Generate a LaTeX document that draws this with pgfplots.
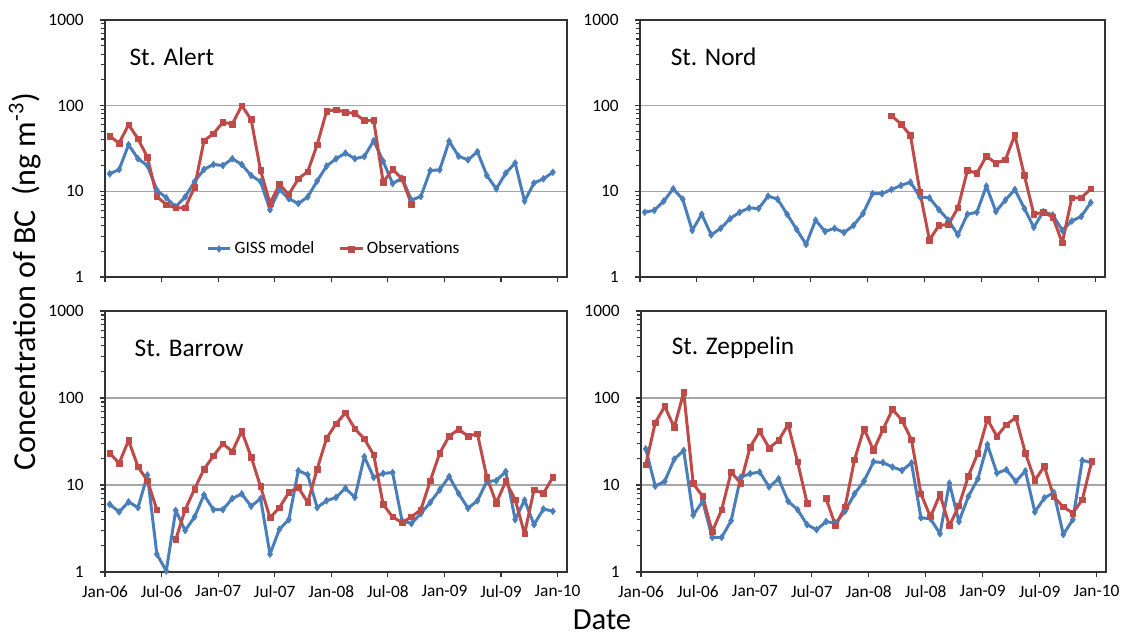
\documentclass[border=0pt]{standalone}
\usepackage{pgfplots}
\pgfplotsset{compat=1.18}
\usepackage{fontspec}
\setmainfont{Carlito}
\definecolor{gissblue}{HTML}{4A7EBB}
\definecolor{obsred}{HTML}{BE4B48}
\newcommand\tickfont{\fontsize{13}{13}\selectfont}
\pgfplotsset{
  every axis/.append style={
    scale only axis,
    xmin=0, xmax=49, ymin=1, ymax=1000,
    xtick={0,6,12,18,24,30,36,42,48},
    ytick={1,10,100,1000}, yticklabels={1,10,100,1000},
    minor ytick={2,3,4,5,6,7,8,9,20,30,40,50,60,70,80,90,200,300,400,500,600,700,800,900},
    ymajorgrids,
    major grid style={draw=black!35, line width=0.8pt},
    axis line style={draw=black!80, line width=0.8pt},
    tick style={draw=black!80, line width=0.8pt},
    major tick length=4pt, minor tick length=3pt,
    tick align=outside, tick pos=left,
    tick label style={font=\tickfont, text=black},
    yticklabel style={xshift=-8.5pt},
    xticklabel style={yshift=-2.5pt},
    unbounded coords=jump, clip=false,
  },
}
\tikzset{
  giss/.style={color=gissblue, line width=2.25pt, line join=round, mark=diamond*, mark size=2.6pt, mark options={line width=0.4pt, solid}},
  obs/.style={color=obsred, line width=2.25pt, line join=round, mark=square*, mark size=2.1pt, mark options={line width=0.4pt, solid}},
  stlabel/.style={anchor=west, font=\fontsize{19}{19}\selectfont},
}
\begin{document}
\begin{tikzpicture}
\path[use as bounding box] (0pt,0pt) rectangle (844.5pt,476.25pt);

% ---------------- St. Alert (top left)
\begin{semilogyaxis}[anchor=south west, at={(78.75pt,268.5pt)}, width=346.5pt, height=192.75pt,
  xticklabels={},
  legend style={draw=none, fill=none, legend columns=2, at={(0.496,0.109)}, anchor=center,
    font=\fontsize{13}{13}\selectfont,
    /tikz/every even column/.append style={column sep=16pt}},
]
\addplot[giss] coordinates {
(0.5,16) (1.5,18) (2.5,35) (3.5,24) (4.5,20) (5.5,10.3) (6.5,8.4) (7.5,6.6) (8.5,8.6) (9.5,13) (10.5,18) (11.5,20.6)
(12.5,20) (13.5,24) (14.5,20.6) (15.5,15.3) (16.5,13) (17.5,6.1) (18.5,10.5) (19.5,8.2) (20.5,7.2) (21.5,8.6) (22.5,13.2) (23.5,19.7)
(24.5,24) (25.5,28) (26.5,24) (27.5,25.5) (28.5,39) (29.5,22.5) (30.5,12.3) (31.5,14.3) (32.5,7.9) (33.5,8.7) (34.5,17.5) (35.5,17.8)
(36.5,38.5) (37.5,25.7) (38.5,23.3) (39.5,29) (40.5,15.3) (41.5,10.7) (42.5,16.3) (43.5,21.4) (44.5,7.7) (45.5,12.5) (46.5,14) (47.5,16.7)};
\addlegendentry{GISS model}
\addplot[obs] coordinates {
(0.5,44) (1.5,36.5) (2.5,60) (3.5,41) (4.5,25) (5.5,8.7) (6.5,7.0) (7.5,6.4) (8.5,6.4) (9.5,11.2) (10.5,39) (11.5,47)
(12.5,64) (13.5,61) (14.5,100) (15.5,69) (16.5,17.5) (17.5,7.2) (18.5,12) (19.5,9.2) (20.5,14) (21.5,17) (22.5,35) (23.5,86)
(24.5,90) (25.5,84) (26.5,81) (27.5,67) (28.5,67) (29.5,12.8) (30.5,18) (31.5,14) (32.5,7.1)};
\addlegendentry{Observations}
\node[stlabel] at (rel axis cs:0.043,0.856) {St. Alert};
\end{semilogyaxis}

% ---------------- St. Nord (top right)
\begin{semilogyaxis}[anchor=south west, at={(480pt,268.5pt)}, width=348.75pt, height=192.75pt,
  xticklabels={},
]
\addplot[giss] coordinates {
(0.5,5.7) (1.5,6.0) (2.5,7.7) (3.5,10.7) (4.5,8.1) (5.5,3.5) (6.5,5.4) (7.5,3.1) (8.5,3.7) (9.5,4.8) (10.5,5.7) (11.5,6.4)
(12.5,6.3) (13.5,8.8) (14.5,8.1) (15.5,5.4) (16.5,3.6) (17.5,2.4) (18.5,4.6) (19.5,3.4) (20.5,3.7) (21.5,3.3) (22.5,4.0) (23.5,5.5)
(24.5,9.4) (25.5,9.4) (26.5,10.5) (27.5,11.7) (28.5,12.8) (29.5,8.6) (30.5,8.4) (31.5,6.1) (32.5,4.6) (33.5,3.1) (34.5,5.4) (35.5,5.7)
(36.5,11.5) (37.5,5.8) (38.5,7.9) (39.5,10.5) (40.5,6.3) (41.5,3.8) (42.5,5.8) (43.5,5.3) (44.5,3.5) (45.5,4.5) (46.5,5.1) (47.5,7.4)};
\addplot[obs] coordinates {
(26.5,76.5) (27.5,61) (28.5,44.8) (29.5,9.8) (30.5,2.7) (31.5,4.0) (32.5,4.1) (33.5,6.4) (34.5,17.5) (35.5,16.3)
(36.5,25.7) (37.5,21.3) (38.5,23.3) (39.5,45.6) (40.5,15.3) (41.5,5.4) (42.5,5.7) (43.5,5.0) (44.5,2.5) (45.5,8.4) (46.5,8.4) (47.5,10.7)};
\node[stlabel] at (rel axis cs:0.056,0.856) {St. Nord};
\end{semilogyaxis}

% ---------------- St. Barrow (bottom left)
\begin{semilogyaxis}[anchor=south west, at={(78.75pt,47.25pt)}, width=346.5pt, height=195.75pt,
  xticklabels={Jan-06,Jul-06,Jan-07,Jul-07,Jan-08,Jul-08,Jan-09,Jul-09,Jan-10},
]
\addplot[giss] coordinates {
(0.5,6.0) (1.5,4.9) (2.5,6.4) (3.5,5.5) (4.5,13.0) (5.5,1.6) (6.5,1.03) (7.5,5.1) (8.5,3.0) (9.5,4.3) (10.5,7.7) (11.5,5.2)
(12.5,5.2) (13.5,7.0) (14.5,7.9) (15.5,5.7) (16.5,7.0) (17.5,1.6) (18.5,3.1) (19.5,4.0) (20.5,14.6) (21.5,13.1) (22.5,5.5) (23.5,6.6)
(24.5,7.2) (25.5,9.2) (26.5,7.2) (27.5,21.2) (28.5,12.2) (29.5,13.6) (30.5,13.9) (31.5,3.9) (32.5,3.6) (33.5,4.7) (34.5,6.3) (35.5,8.8)
(36.5,12.5) (37.5,8.0) (38.5,5.4) (39.5,6.6) (40.5,11.0) (41.5,11.2) (42.5,14.3) (43.5,4.0) (44.5,6.7) (45.5,3.5) (46.5,5.3) (47.5,5.0)};
\addplot[obs] coordinates {
(0.5,23.2) (1.5,17.8) (2.5,32.6) (3.5,16.2) (4.5,11.2) (5.5,5.2) (6.5,nan) (7.5,2.36) (8.5,5.2) (9.5,9.0) (10.5,15.2) (11.5,21.6)
(12.5,29.9) (13.5,24.2) (14.5,41.7) (15.5,21.0) (16.5,9.6) (17.5,4.2) (18.5,5.5) (19.5,8.2) (20.5,9.4) (21.5,6.3) (22.5,15.2) (23.5,34.4)
(24.5,50.5) (25.5,67.4) (26.5,44.3) (27.5,34.0) (28.5,22.2) (29.5,6.0) (30.5,4.3) (31.5,3.7) (32.5,4.3) (33.5,5.2) (34.5,11.2) (35.5,23.2)
(36.5,36.5) (37.5,43.6) (38.5,36.5) (39.5,38.8) (40.5,12.2) (41.5,6.2) (42.5,11.0) (43.5,6.8) (44.5,2.75) (45.5,8.8) (46.5,8.0) (47.5,12.3)};
\node[stlabel] at (rel axis cs:0.054,0.858) {St. Barrow};
\end{semilogyaxis}

% ---------------- St. Zeppelin (bottom right)
\begin{semilogyaxis}[anchor=south west, at={(480.75pt,47.25pt)}, width=348.75pt, height=195.75pt,
  xticklabels={Jan-06,Jul-06,Jan-07,Jul-07,Jan-08,Jul-08,Jan-09,Jul-09,Jan-10},
]
\addplot[giss] coordinates {
(0.5,26) (1.5,9.7) (2.5,11.0) (3.5,19.8) (4.5,25) (5.5,4.5) (6.5,6.5) (7.5,2.5) (8.5,2.5) (9.5,3.9) (10.5,12.3) (11.5,13.5)
(12.5,14.1) (13.5,9.5) (14.5,11.8) (15.5,6.5) (16.5,5.2) (17.5,3.5) (18.5,3.06) (19.5,3.8) (20.5,3.65) (21.5,5.0) (22.5,7.9) (23.5,11.1)
(24.5,18.5) (25.5,18.1) (26.5,16.1) (27.5,14.7) (28.5,17.9) (29.5,4.2) (30.5,4.1) (31.5,2.75) (32.5,10.5) (33.5,3.8) (34.5,7.4) (35.5,11.8)
(36.5,29.1) (37.5,13.7) (38.5,15.0) (39.5,11.0) (40.5,14.5) (41.5,4.9) (42.5,7.1) (43.5,8.2) (44.5,2.7) (45.5,4.0) (46.5,19.2) (47.5,18.1)};
\addplot[obs] coordinates {
(0.5,17.1) (1.5,52) (2.5,80) (3.5,46) (4.5,116) (5.5,10.4) (6.5,7.4) (7.5,2.9) (8.5,5.2) (9.5,14.1) (10.5,10.5) (11.5,27.3)
(12.5,41.4) (13.5,26.6) (14.5,32.6) (15.5,49.4) (16.5,18.4) (17.5,6.2) (18.5,nan) (19.5,7.0) (20.5,3.4) (21.5,5.6) (22.5,19.6) (23.5,44.5)
(24.5,25) (25.5,43.6) (26.5,74) (27.5,55.4) (28.5,33.2) (29.5,7.9) (30.5,4.3) (31.5,7.8) (32.5,3.4) (33.5,5.8) (34.5,12.7) (35.5,23.3)
(36.5,56.9) (37.5,36.3) (38.5,49.4) (39.5,59.5) (40.5,23.3) (41.5,11.3) (42.5,16.4) (43.5,7.3) (44.5,5.6) (45.5,4.75) (46.5,6.8) (47.5,18.8)};
\node[stlabel] at (rel axis cs:0.056,0.858) {St. Zeppelin};
\end{semilogyaxis}

\node[rotate=90, font=\fontsize{24}{24}\selectfont] at (18.75pt,265.1pt) {Concentration of BC\ \ (ng m\textsuperscript{-3})};
\node[font=\fontsize{23}{23}\selectfont] at (451.5pt,11.5pt) {Date};
\end{tikzpicture}
\end{document}
